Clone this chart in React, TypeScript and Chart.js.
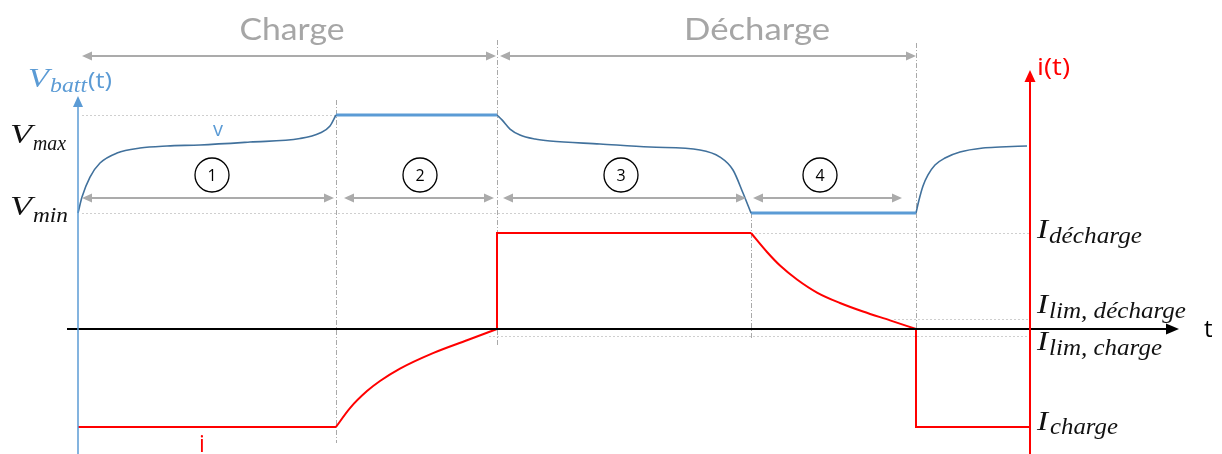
import React, { useEffect, useRef } from "react";
import { Chart, registerables } from "chart.js";

Chart.register(...registerables);

const W = 1222;
const H = 454;

// Time axis (arbitrary units). Phase boundaries: start 1, start 2, start 3, start 4, end 4
const phaseBounds = [0, 2.58, 4.19, 6.73, 8.38];
const currentAxisTime = 9.52;
const phaseLabels = ["1", "2", "3", "4"];
const phaseCircleTime = [1.34, 3.42, 5.43, 7.42];
const sectionLabels = ["Charge", "Décharge"];

// Battery voltage, normalised: 0 = Vmin, 1 = Vmax
const vChargeTime = [0, 0.04, 0.12, 0.22, 0.39, 0.62, 0.89, 1.22, 1.72, 2.22, 2.42, 2.52, 2.58];
const vChargeValue = [0, 0.163, 0.367, 0.51, 0.612, 0.663, 0.684, 0.694, 0.724, 0.76, 0.816, 0.888, 1];
const vMaxPlateauTime = [2.58, 4.19];
const vMaxPlateauValue = [1, 1];
const vDischargeTime = [4.19, 4.24, 4.32, 4.42, 4.57, 4.72, 5.22, 5.72, 6.22, 6.42, 6.55, 6.65, 6.73];
const vDischargeValue = [1, 0.95, 0.857, 0.796, 0.755, 0.735, 0.704, 0.673, 0.643, 0.571, 0.439, 0.204, 0];
const vMinPlateauTime = [6.73, 8.38];
const vMinPlateauValue = [0, 0];
const vRecoverTime = [8.38, 8.41, 8.45, 8.5, 8.57, 8.67, 8.82, 9.05, 9.22, 9.49];
const vRecoverValue = [0, 0.133, 0.276, 0.388, 0.49, 0.561, 0.622, 0.663, 0.673, 0.684];

// Current, normalised: +1 = I_décharge, negative = charge
const iChargeFlatTime = [0, 2.58];
const iChargeFlatValue = [-1.02, -1.02];
const iChargeRiseTime = [2.58, 2.72, 2.89, 3.02, 3.22, 3.55, 3.89, 4.19];
const iChargeRiseValue = [-1.02, -0.824, -0.647, -0.542, -0.4125, -0.251, -0.117, 0];
const iDischargeFlatTime = [4.19, 4.19, 6.73];
const iDischargeFlatValue = [0, 1, 1];
const iDischargeDecayTime = [6.73, 6.89, 7.02, 7.19, 7.39, 7.62, 7.85, 8.12, 8.38];
const iDischargeDecayValue = [1, 0.802, 0.661, 0.516, 0.38, 0.271, 0.182, 0.09, 0];
const iRestartTime = [8.38, 8.38, 9.52];
const iRestartValue = [0, -1.02, -1.02];

const iLimDischarge = 0.104;
const iLimCharge = -0.073;

const BLUE_DARK = "#41719C";
const BLUE = "#5B9BD5";
const RED = "#FF0000";
const GREY = "#ABABAB";

function pts(t: number[], v: number[]) {
  return t.map((x, i) => ({ x, y: v[i] }));
}

function series(t: number[], v: number[], axis: string, color: string, width: number, smooth: boolean) {
  return {
    data: pts(t, v),
    yAxisID: axis,
    borderColor: color,
    borderWidth: width,
    pointRadius: 0,
    fill: false,
    clip: false as any,
    tension: 0,
    cubicInterpolationMode: smooth ? ("monotone" as const) : ("default" as const),
    borderJoinStyle: "miter" as const,
  };
}

function arrowHead(ctx: CanvasRenderingContext2D, tipX: number, tipY: number, dx: number, dy: number, len: number, half: number) {
  const bx = tipX - dx * len;
  const by = tipY - dy * len;
  const px = -dy;
  const py = dx;
  ctx.beginPath();
  ctx.moveTo(tipX, tipY);
  ctx.lineTo(bx + px * half, by + py * half);
  ctx.lineTo(bx - px * half, by - py * half);
  ctx.closePath();
  ctx.fill();
}

function doubleArrow(ctx: CanvasRenderingContext2D, x1: number, x2: number, y: number) {
  ctx.beginPath();
  ctx.moveTo(x1 + 6, y);
  ctx.lineTo(x2 - 6, y);
  ctx.stroke();
  arrowHead(ctx, x1, y, -1, 0, 10, 4.5);
  arrowHead(ctx, x2, y, 1, 0, 10, 4.5);
}

function fitText(ctx: CanvasRenderingContext2D, text: string, x: number, y: number, font: string, width: number | null, align: "left" | "center" = "left") {
  ctx.font = font;
  const m = ctx.measureText(text).width;
  const s = width ? width / m : 1;
  ctx.save();
  ctx.translate(x, y);
  ctx.scale(s, 1);
  ctx.textAlign = "left";
  ctx.textBaseline = "alphabetic";
  ctx.fillText(text, align === "center" ? -m / 2 : 0, 0);
  ctx.restore();
}

const MATH = "Liberation Serif";
const SANS = "'Open Sans'";

const decorPlugin = {
  id: "decor",
  beforeDatasetsDraw(chart: any) {
    const { ctx } = chart;
    const x = chart.scales.x;
    const yV = chart.scales.yV;
    const yI = chart.scales.yI;
    const px = (t: number) => x.getPixelForValue(t);
    ctx.save();
    // horizontal dotted guides
    ctx.strokeStyle = "#CFCFCF";
    ctx.lineWidth = 1;
    ctx.setLineDash([2, 2]);
    const h = (y: number, x1: number, x2: number) => {
      const yy = Math.round(y) + 0.5;
      ctx.beginPath();
      ctx.moveTo(x1, yy);
      ctx.lineTo(x2, yy);
      ctx.stroke();
    };
    h(yV.getPixelForValue(1), px(phaseBounds[0]) + 4, px(phaseBounds[1]));
    h(yV.getPixelForValue(0), px(phaseBounds[0]) + 4, px(phaseBounds[3]));
    h(yI.getPixelForValue(1), px(phaseBounds[3]), px(currentAxisTime));
    h(yI.getPixelForValue(iLimDischarge), px(phaseBounds[4]) - 22, px(currentAxisTime));
    h(yI.getPixelForValue(iLimCharge), px(phaseBounds[2]) - 8, px(currentAxisTime));
    // vertical dash-dot guides
    ctx.strokeStyle = "#A9A9A9";
    ctx.setLineDash([5, 2, 1, 2]);
    const v = (t: number, y1: number, y2: number) => {
      const xx = Math.round(px(t)) + 0.5;
      ctx.beginPath();
      ctx.moveTo(xx, y1);
      ctx.lineTo(xx, y2);
      ctx.stroke();
    };
    v(phaseBounds[1], 100, 443);
    v(phaseBounds[2], 40, 347);
    v(phaseBounds[3], yV.getPixelForValue(0), 340);
    v(phaseBounds[4], 43, 430);
    ctx.restore();
  },
  afterDatasetsDraw(chart: any) {
    const { ctx } = chart;
    const x = chart.scales.x;
    const yI = chart.scales.yI;
    const px = (t: number) => x.getPixelForValue(t);
    ctx.save();
    ctx.setLineDash([]);

    // black time axis
    const y0 = yI.getPixelForValue(0);
    ctx.strokeStyle = "#000";
    ctx.fillStyle = "#000";
    ctx.lineWidth = 2;
    ctx.beginPath();
    ctx.moveTo(67, y0);
    ctx.lineTo(1168, y0);
    ctx.stroke();
    arrowHead(ctx, 1179, y0, 1, 0, 13, 5.5);

    // blue voltage axis
    const xb = px(0);
    ctx.strokeStyle = BLUE;
    ctx.fillStyle = BLUE;
    ctx.lineWidth = 1.5;
    ctx.beginPath();
    ctx.moveTo(xb, H);
    ctx.lineTo(xb, 106);
    ctx.stroke();
    arrowHead(ctx, xb, 96, 0, -1, 11, 5);

    // red current axis
    const xr = px(currentAxisTime);
    ctx.strokeStyle = RED;
    ctx.fillStyle = RED;
    ctx.lineWidth = 2;
    ctx.beginPath();
    ctx.moveTo(xr, H);
    ctx.lineTo(xr, 80);
    ctx.stroke();
    arrowHead(ctx, xr, 70, 0, -1, 12, 5.5);

    // grey double arrows
    ctx.strokeStyle = GREY;
    ctx.fillStyle = GREY;
    ctx.lineWidth = 2;
    doubleArrow(ctx, px(phaseBounds[0]) + 4, px(phaseBounds[2]) - 1, 56);
    doubleArrow(ctx, px(phaseBounds[2]) + 3, px(phaseBounds[4]), 56);
    doubleArrow(ctx, px(phaseBounds[0]) + 4, px(phaseBounds[1]) - 2, 198);
    doubleArrow(ctx, px(phaseBounds[1]) + 8, px(phaseBounds[2]) - 3, 198);
    doubleArrow(ctx, px(phaseBounds[2]) + 6, px(phaseBounds[3]) - 5, 198);
    doubleArrow(ctx, px(phaseBounds[3]) + 2, 902, 198);

    // circled phase numbers
    ctx.strokeStyle = "#000";
    ctx.lineWidth = 1.3;
    ctx.fillStyle = "#000";
    phaseLabels.forEach((lab, i) => {
      const cx = px(phaseCircleTime[i]);
      ctx.beginPath();
      ctx.arc(cx, 175, 17, 0, Math.PI * 2);
      ctx.stroke();
      ctx.font = `16px ${SANS}`;
      ctx.textAlign = "center";
      ctx.textBaseline = "middle";
      ctx.fillText(lab, cx, 176);
    });

    // section titles
    ctx.fillStyle = "#A6A6A6";
    fitText(ctx, sectionLabels[0], 292, 40, `30px Lato`, 105, "center");
    fitText(ctx, sectionLabels[1], 757, 40, `30px Lato`, 146, "center");

    // voltage axis label
    ctx.fillStyle = BLUE;
    fitText(ctx, "V", 28, 87, `italic 27px ${MATH}`, 21);
    fitText(ctx, "batt", 50, 92, `italic 22px ${MATH}`, 37);
    fitText(ctx, "(t)", 88, 88, `22px ${SANS}`, 24);
    fitText(ctx, "v", 218, 136, `20px ${SANS}`, null, "center");

    // current axis label
    ctx.fillStyle = RED;
    fitText(ctx, "i(t)", 1037, 75, `24px ${SANS}`, 33);
    fitText(ctx, "i", 202, 452, `23px ${SANS}`, null, "center");

    // t label
    ctx.fillStyle = "#000";
    fitText(ctx, "t", 1204, 337, `24px ${SANS}`, null);

    // math labels
    ctx.fillStyle = "#111";
    fitText(ctx, "V", 10, 143, `italic 27px ${MATH}`, 22);
    fitText(ctx, "max", 33, 150, `italic 22px ${MATH}`, 33);
    fitText(ctx, "V", 10, 215, `italic 27px ${MATH}`, 22);
    fitText(ctx, "min", 33, 222, `italic 22px ${MATH}`, 35);

    fitText(ctx, "I", 1037, 238, `italic 27px ${MATH}`, 11);
    fitText(ctx, "décharge", 1049, 243, `italic 24px ${MATH}`, 93);
    fitText(ctx, "I", 1037, 313, `italic 27px ${MATH}`, 11);
    fitText(ctx, "lim, décharge", 1049, 318, `italic 24px ${MATH}`, 137);
    fitText(ctx, "I", 1037, 350, `italic 27px ${MATH}`, 11);
    fitText(ctx, "lim, charge", 1049, 355, `italic 24px ${MATH}`, 113);
    fitText(ctx, "I", 1037, 430, `italic 27px ${MATH}`, 11);
    fitText(ctx, "charge", 1050, 434, `italic 24px ${MATH}`, 68);

    ctx.restore();
  },
};

export default function App() {
  const ref = useRef<HTMLCanvasElement | null>(null);
  useEffect(() => {
    if (!ref.current) return;
    const chart = new Chart(ref.current, {
      type: "line",
      data: {
        datasets: [
          series(vChargeTime, vChargeValue, "yV", BLUE_DARK, 1.6, true),
          series(vMaxPlateauTime, vMaxPlateauValue, "yV", BLUE, 3, false),
          series(vDischargeTime, vDischargeValue, "yV", BLUE_DARK, 1.6, true),
          series(vMinPlateauTime, vMinPlateauValue, "yV", BLUE, 3, false),
          series(vRecoverTime, vRecoverValue, "yV", BLUE_DARK, 1.6, true),
          series(iChargeFlatTime, iChargeFlatValue, "yI", RED, 2, false),
          series(iChargeRiseTime, iChargeRiseValue, "yI", RED, 2, true),
          series(iDischargeFlatTime, iDischargeFlatValue, "yI", RED, 2, false),
          series(iDischargeDecayTime, iDischargeDecayValue, "yI", RED, 2, true),
          series(iRestartTime, iRestartValue, "yI", RED, 2, false),
        ] as any,
      },
      options: {
        animation: false,
        responsive: false,
        events: [],
        layout: { padding: 0 },
        plugins: { legend: { display: false }, tooltip: { enabled: false }, title: { display: false } },
        scales: {
          x: { type: "linear", min: -0.78, max: 11.44, display: false },
          yV: { type: "linear", min: -2.459, max: 2.1735, display: false },
          yI: { type: "linear", min: -1.302, max: 3.427, display: false },
        },
      },
      plugins: [decorPlugin],
    });
    return () => chart.destroy();
  }, []);
  return (
    <div style={{ position: "fixed", left: 0, top: 0, width: W, height: H, background: "#fff" }}>
      <canvas ref={ref} width={W} height={H} style={{ display: "block", width: W, height: H }} />
    </div>
  );
}
